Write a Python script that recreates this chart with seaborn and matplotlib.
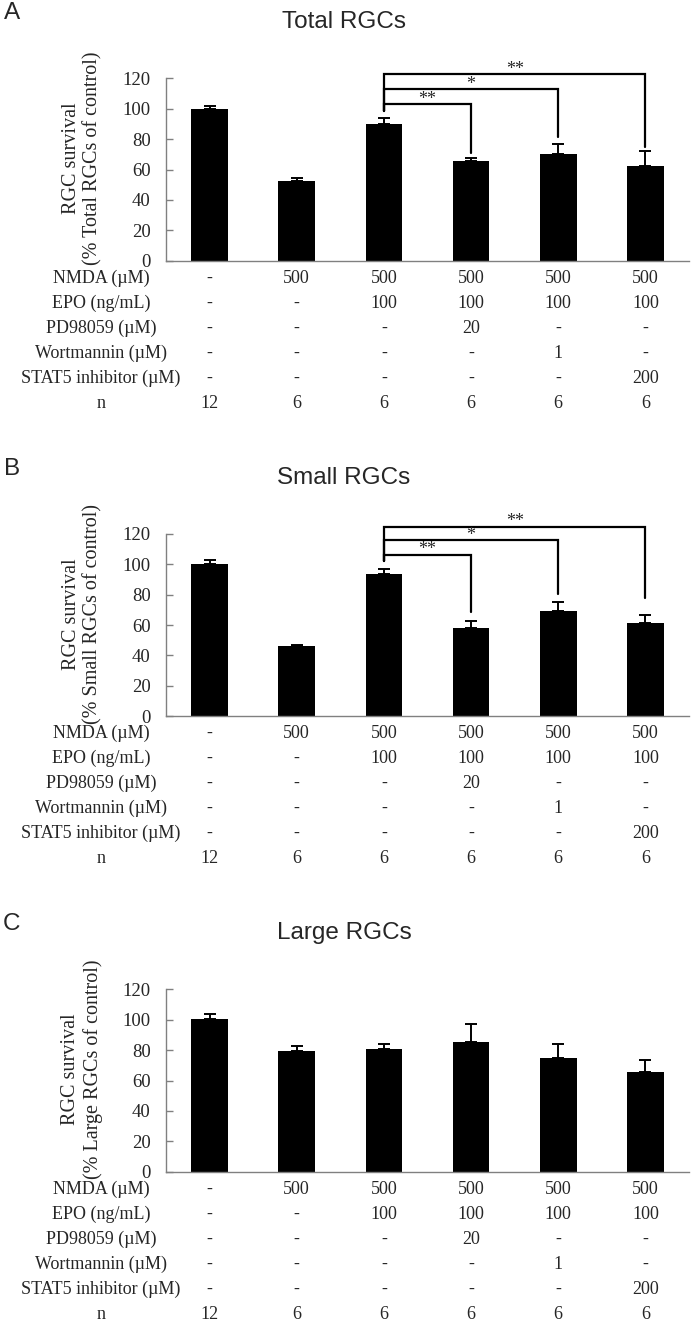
import matplotlib
matplotlib.use("Agg")
import matplotlib.pyplot as plt
import seaborn as sns
import pandas as pd
import numpy as np

# data
groups = ["g1", "g2", "g3", "g4", "g5", "g6"]

total_mean = [100, 52.5, 90, 65.5, 70.5, 62.5]
total_err = [2.0, 2.0, 3.8, 1.8, 6.5, 9.5]

small_mean = [100, 46.2, 93.4, 58.0, 69.4, 61.2]
small_err = [2.8, 0.7, 3.5, 4.6, 5.6, 5.7]

large_mean = [100.5, 79.5, 80.8, 85.3, 74.6, 65.8]
large_err = [3.4, 3.5, 3.5, 12.0, 9.5, 8.0]

# (from bar, to bar, level, left drop end, right drop end, label)
total_brackets = [(2, 3, 102.9, 98.5, 71.1, "**"),
                  (2, 4, 112.8, 98.5, 81.6, "*"),
                  (2, 5, 122.6, 98.5, 74.6, "**")]
small_brackets = [(2, 3, 106.0, 101.9, 68.5, "**"),
                  (2, 4, 115.6, 101.9, 80.5, "*"),
                  (2, 5, 124.8, 101.9, 77.9, "**")]

row_labels = ["NMDA (\u00b5M)", "EPO (ng/mL)", "PD98059 (\u00b5M)",
              "Wortmannin (\u00b5M)", "STAT5 inhibitor (\u00b5M)", "n"]
nmda = ["-", "500", "500", "500", "500", "500"]
epo = ["-", "-", "100", "100", "100", "100"]
pd98059 = ["-", "-", "-", "20", "-", "-"]
wortmannin = ["-", "-", "-", "-", "1", "-"]
stat5 = ["-", "-", "-", "-", "-", "200"]
n_vals = ["12", "6", "6", "6", "6", "6"]
table_rows = [nmda, epo, pd98059, wortmannin, stat5, n_vals]

panels = [
    ("A", "Total RGCs", "(% Total RGCs of control)", total_mean, total_err, total_brackets),
    ("B", "Small RGCs", "(% Small RGCs of control)", small_mean, small_err, small_brackets),
    ("C", "Large RGCs", "(% Large RGCs of control)", large_mean, large_err, []),
]

sns.set_style("white")
plt.rcParams["font.family"] = ["Liberation Serif", "DejaVu Serif"]

W, H = 696, 1324
fig = plt.figure(figsize=(W / 100, H / 100), dpi=100)

ax_left, ax_right = 166, 689
ax_h = 182.4
panel_shift = 455.5
axis_color = "#808080"
sans = ["Liberation Sans", "DejaVu Sans"]

for k, (letter, title, ylab2, means, errs, brackets) in enumerate(panels):
    bottom_px = 260.7 + k * panel_shift
    ax = fig.add_axes([ax_left / W, 1 - bottom_px / H, (ax_right - ax_left) / W, ax_h / H])

    df = pd.DataFrame({"group": groups, "value": means})
    sns.barplot(data=df, x="group", y="value", order=groups, color="black",
                saturation=1, width=0.42, errorbar=None, edgecolor="none", ax=ax)
    ax.errorbar(np.arange(6), means, yerr=[np.zeros(6), errs], fmt="none",
                ecolor="black", elinewidth=1.4, capsize=4, capthick=1.4, zorder=3)

    ax.set_xlim(-0.5, 5.5)
    ax.set_ylim(0, 120)
    ax.set_yticks(range(0, 121, 20))
    ax.set_xticks([])
    ax.set_xticks(np.arange(-0.5, 6, 1), minor=True)
    ax.tick_params(axis="x", which="minor", direction="in", length=5,
                   color=axis_color, width=1)
    ax.tick_params(axis="y", direction="in", length=5, color=axis_color, width=1,
                   labelsize=13.5, pad=11, left=True)
    ax.set_xlabel("")
    ax.set_ylabel("")
    for side in ["top", "right"]:
        ax.spines[side].set_visible(False)
    for side in ["left", "bottom"]:
        ax.spines[side].set_color(axis_color)
        ax.spines[side].set_linewidth(1)

    ax.text(-0.16, 0.56, "RGC survival\n" + ylab2, transform=ax.transAxes,
            rotation=90, ha="center", va="center", fontsize=14.5, linespacing=1.2)

    # significance brackets
    for x0, x1, lvl, d0, d1, lab in brackets:
        ax.plot([x0, x0, x1, x1], [d0, lvl, lvl, d1], color="black", lw=1.6,
                clip_on=False, solid_joinstyle="miter")
        ax.annotate(lab, xy=((x0 + x1) / 2, lvl), xytext=(0, 0.5),
                    textcoords="offset points", ha="center", va="baseline",
                    fontsize=13, annotation_clip=False)

    # treatment table below the axis
    for r, (lab, vals) in enumerate(zip(row_labels, table_rows)):
        y_ax = -(17.5 + 25 * r) / ax_h
        ax.text((101 - ax_left) / (ax_right - ax_left), y_ax, lab, transform=ax.transAxes,
                ha="center", va="center", fontsize=13)
        for i, v in enumerate(vals):
            ax.text((i + 0.5) / 6, y_ax, v, transform=ax.transAxes,
                    ha="center", va="center", fontsize=13)

    fig.text(12 / W, 1 - (13 + k * panel_shift) / H, letter, ha="center", va="center",
             fontsize=17.5, family=sans)
    fig.text(344 / W, 1 - (22 + k * panel_shift) / H, title, ha="center", va="center",
             fontsize=17.5, family=sans)

fig.savefig("out.png", dpi=100)
